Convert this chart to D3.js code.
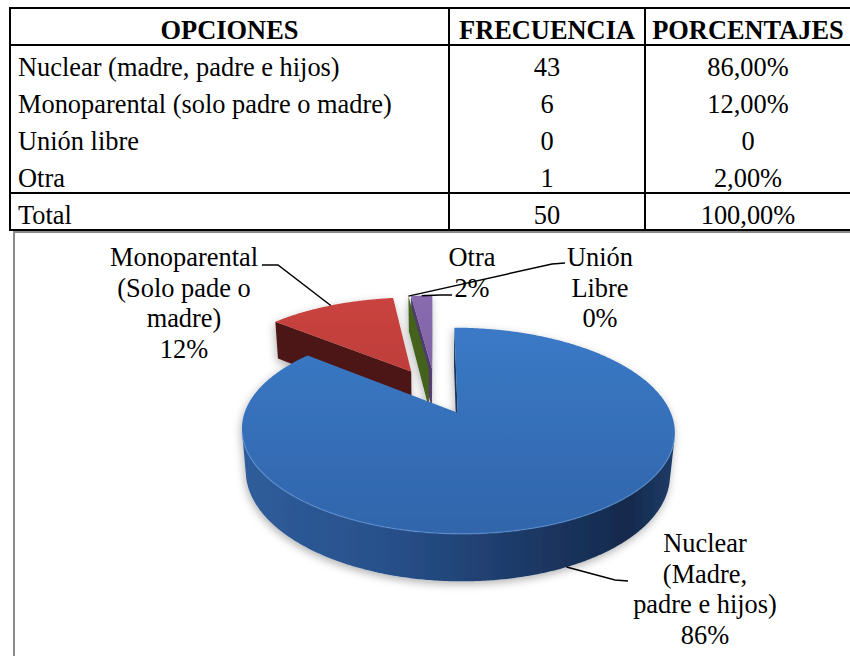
<!DOCTYPE html>
<html><head><meta charset="utf-8">
<script src="https://cdn.jsdelivr.net/npm/d3@7"></script>
<style>
body{margin:0;background:#fff;}
svg{display:block;font-family:"Liberation Serif","Times New Roman",serif;}
</style>
</head><body>
<svg id="c" width="850" height="656"></svg>
<script>
// ---------- DATA ----------
const headers = ["OPCIONES", "FRECUENCIA", "PORCENTAJES"];
const categories = ["Nuclear (madre, padre e hijos)", "Monoparental (solo padre o madre)", "Unión libre", "Otra"];
const frequencies = [43, 6, 0, 1];
const percentages = ["86,00%", "12,00%", "0", "2,00%"];
const totalRow = ["Total", "50", "100,00%"];
const sliceNames = [["Nuclear", "(Madre,", "padre e hijos)"], ["Monoparental", "(Solo pade o", "madre)"], ["Unión", "Libre"], ["Otra"]];
const sliceValues = [43, 6, 0, 1];

// ---------- STYLE / LAYOUT ----------
const FONT = 26.4;
const sliceStyle = [
  {top: ["#3d7ecd", "#3064a9"], side: [["#2f5d9b",0],["#27508a",0.35],["#1b3560",0.72],["#142a4c",0.9],["#1e3b66",1]], wall: "#1d3558"},
  {top: ["#cc4541", "#a32f2c"], side: [["#4a1514",0],["#5a1d1b",1]], wall: "#4e1816"},
  {top: ["#7d9a3e", "#5f7a2a"], side: [["#3e5a1c",0],["#4d6b24",1]], wall: "#44621f"},
  {top: ["#8a6cb0", "#6d5192"], side: [["#4e3a6c",0],["#5c4680",1]], wall: "#4f3b6e"}
];
const labelLayout = [
  {x: 705, y: 552, line: [[628, 581], [615, 580]], rimH: -1},
  {x: 184, y: 266, line: [[262, 265], [278, 265]], rimH: 0},
  {x: 600, y: 266, line: [[565, 263], [552, 264]], rimH: 0},
  {x: 472, y: 266, line: [[452, 295], [440, 295]], rimH: 0}
];
const LINE = 30.5;

const svg = d3.select("#c");
const defs = svg.append("defs");

// ---------- TABLE ----------
const colEdges = [10, 449, 645, 900];
const colCenter = i => (colEdges[i] + Math.min(colEdges[i + 1], 851)) / 2;
const rowY = d3.scaleLinear().domain([0, 5]).range([39, 224]);
const tbl = svg.append("g");
tbl.selectAll("text.h").data(headers).join("text")
  .attr("x", (d, i) => i === 2 ? 748 : colCenter(i)).attr("y", rowY(0))
  .attr("text-anchor", "middle").attr("font-weight", "bold").attr("font-size", FONT)
  .text(d => d);
const bodyRows = categories.map((c, i) => [c, String(frequencies[i]), percentages[i]]).concat([totalRow]);
bodyRows.forEach((r, ri) => {
  r.forEach((cell, ci) => {
    tbl.append("text")
      .attr("x", ci === 0 ? 18 : (ci === 1 ? 547 : 748))
      .attr("y", rowY(ri + 1))
      .attr("text-anchor", ci === 0 ? "start" : "middle")
      .attr("font-size", FONT).text(cell);
  });
});
const ln = (x1, y1, x2, y2, w, c) => tbl.append("line").attr("x1", x1).attr("y1", y1).attr("x2", x2).attr("y2", y2)
  .attr("stroke", c || "#000").attr("stroke-width", w || 2);
ln(9, 8, 851, 8); ln(9, 45, 851, 45); ln(9, 193, 851, 193); ln(9, 230, 851, 230);
ln(10, 7, 10, 231); ln(449, 7, 449, 231); ln(645, 7, 645, 231);

// chart frame
svg.append("rect").attr("x", 14).attr("y", 232).attr("width", 900).attr("height", 500)
  .attr("fill", "none").attr("stroke", "#8a8a8a").attr("stroke-width", 2);

// ---------- 3D PIE ----------
const view = {cx: 435, cy: 391, s: 205, sinT: 0.451, cosT: 0.893, D: 5.31, Hh: 0.226, explode: 0.25};
const cam = [0, -view.D * view.cosT, view.D * view.sinT];
function proj(x, y, h) {
  const u = y * view.sinT + h * view.cosT;
  const w = 1 + (y * view.cosT - h * view.sinT) / view.D;
  return [view.cx + view.s * x / w, view.cy - view.s * u / w];
}
const total = d3.sum(sliceValues);
const arcs = d3.pie().sort(null).value(d => d)(sliceValues);

const filt = defs.append("filter").attr("id", "sh").attr("x", "-20%").attr("y", "-20%").attr("width", "140%").attr("height", "140%");
filt.append("feDropShadow").attr("dx", -1).attr("dy", 3).attr("stdDeviation", 4).attr("flood-color", "#000").attr("flood-opacity", 0.3);

const pieG = svg.append("g").attr("filter", "url(#sh)");

const slices = arcs.map((a, i) => {
  const mid = (a.startAngle + a.endAngle) / 2;
  const off = [view.explode * Math.sin(mid), view.explode * Math.cos(mid)];
  return {a, i, mid, off};
});
const pt = (s, ang, r, h) => proj(s.off[0] + r * Math.sin(ang), s.off[1] + r * Math.cos(ang), h);
const visible = (n, p) => (n[0] * (cam[0] - p[0]) + n[1] * (cam[1] - p[1]) + n[2] * (cam[2] - p[2])) > 0;
const line = d3.line();

slices.forEach(s => {
  const st = sliceStyle[s.i];
  const tg = defs.append("linearGradient").attr("id", "top" + s.i).attr("gradientUnits", "userSpaceOnUse")
    .attr("x1", 0).attr("y1", 280).attr("x2", 0).attr("y2", 545);
  tg.append("stop").attr("offset", 0).attr("stop-color", st.top[0]);
  tg.append("stop").attr("offset", 1).attr("stop-color", st.top[1]);
  const sg = defs.append("linearGradient").attr("id", "side" + s.i).attr("gradientUnits", "userSpaceOnUse")
    .attr("x1", 240).attr("y1", 0).attr("x2", 672).attr("y2", 0);
  st.side.forEach(([c, o]) => sg.append("stop").attr("offset", o).attr("stop-color", c));
});

const order = slices.slice().sort((p, q) => q.off[1] - p.off[1]);
order.forEach(s => {
  const st = sliceStyle[s.i];
  const a0 = s.a.startAngle, a1 = s.a.endAngle;
  const Hh = view.Hh;
  const g = pieG.append("g");
  [[a0, [-Math.cos(a0), Math.sin(a0), 0]], [a1, [Math.cos(a1), -Math.sin(a1), 0]]].forEach(([ang, n]) => {
    const p = [s.off[0] + 0.5 * Math.sin(ang), s.off[1] + 0.5 * Math.cos(ang), -Hh / 2];
    if (visible(n, p)) {
      g.append("path").attr("d", line([pt(s, ang, 0, 0), pt(s, ang, 1, 0), pt(s, ang, 1, -Hh), pt(s, ang, 0, -Hh)]) + "Z")
        .attr("fill", st.wall);
    }
  });
  if (a1 > a0) {
    const n = Math.max(2, Math.ceil((a1 - a0) / (Math.PI / 360)));
    const step = (a1 - a0) / n;
    let run = [];
    const runs = [];
    for (let j = 0; j < n; j++) {
      const am = a0 + (j + 0.5) * step;
      const nv = [Math.sin(am), Math.cos(am), 0];
      const p = [s.off[0] + Math.sin(am), s.off[1] + Math.cos(am), -Hh / 2];
      if (visible(nv, p)) { if (!run.length) run.push(a0 + j * step); run.push(a0 + (j + 1) * step); }
      else if (run.length) { runs.push(run); run = []; }
    }
    if (run.length) runs.push(run);
    runs.forEach(r => {
      const topPts = r.map(ang => pt(s, ang, 1, 0));
      const botPts = r.slice().reverse().map(ang => pt(s, ang, 1, -Hh));
      g.append("path").attr("d", line(topPts.concat(botPts)) + "Z").attr("fill", `url(#side${s.i})`);
      s.frontRim = topPts;
    });
    const pts = [pt(s, a0, 0, 0)].concat(d3.range(n + 1).map(j => pt(s, a0 + (a1 - a0) * j / n, 1, 0)));
    g.append("path").attr("d", line(pts) + "Z").attr("fill", `url(#top${s.i})`);
    if (s.frontRim) {
      g.append("path").attr("d", line(s.frontRim)).attr("fill", "none")
        .attr("stroke", "#6a9fe0").attr("stroke-opacity", 0.55).attr("stroke-width", 1.3);
    }
  }
});

// ---------- LABELS ----------
const lab = svg.append("g");
slices.forEach(s => {
  const L = labelLayout[s.i];
  const pctText = Math.round(sliceValues[s.i] / total * 100) + "%";
  const lines = sliceNames[s.i].concat([pctText]);
  lab.selectAll(null).data(lines).join("text")
    .attr("x", L.x).attr("y", (d, j) => L.y + j * LINE)
    .attr("text-anchor", "middle").attr("font-size", FONT).attr("fill", "#000")
    .text(d => d);
  const end = pt(s, s.mid, 1, L.rimH * view.Hh);
  lab.append("path").attr("d", line([L.line[0], L.line[1], end]))
    .attr("fill", "none").attr("stroke", "#000").attr("stroke-width", 1.5);
});
</script>
</body></html>
